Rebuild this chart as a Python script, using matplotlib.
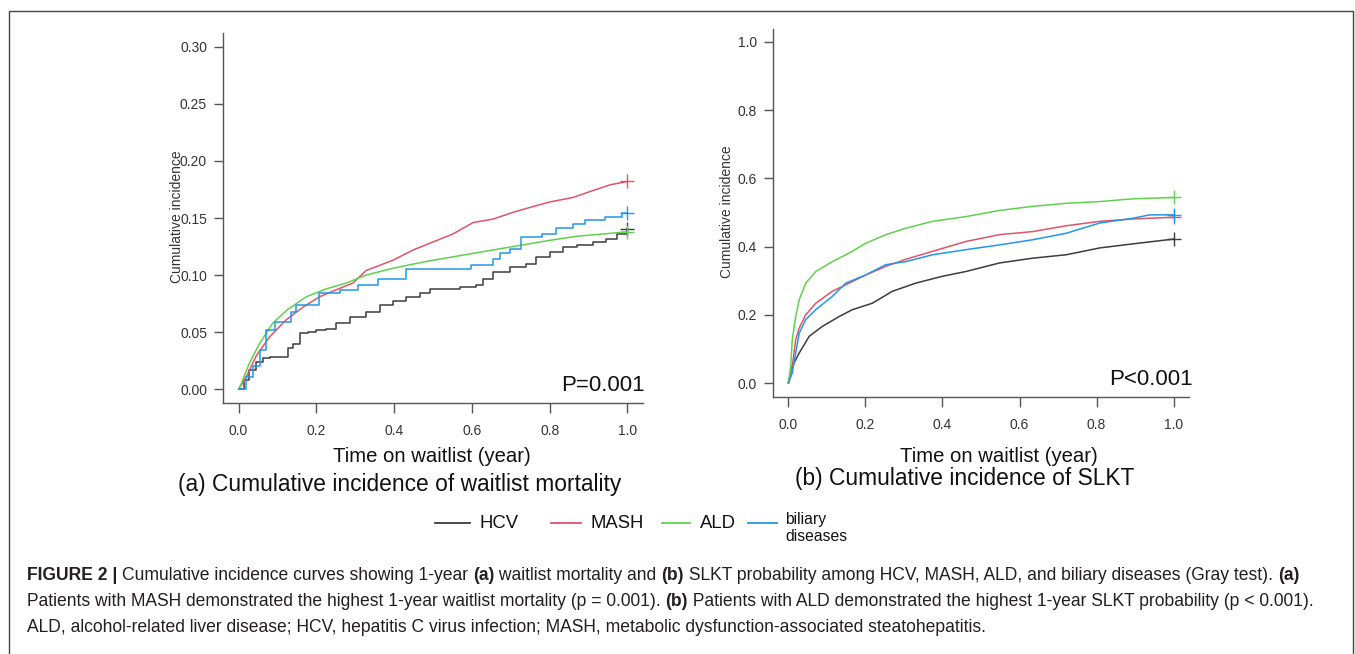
import matplotlib
matplotlib.use("Agg")
import matplotlib.pyplot as plt
from matplotlib.lines import Line2D
from matplotlib.patches import Rectangle

plt.rcParams['font.family'] = ['Liberation Sans', 'DejaVu Sans']

W, H = 1355, 654

groups = ["HCV", "MASH", "ALD", "biliary\ndiseases"]
colors = ["#3c3c3c", "#DF536B", "#61D04F", "#2297E6"]

# ---- Panel (a): waitlist mortality ----
a_hcv_t = [0, .015, .028, .045, .063, .08, .114, .127, .14, .157, .178, .2, .226, .251, .286, .328, .363,
           .397, .431, .466, .491, .551, .569, .611, .628, .654, .697, .74, .766, .8, .834, .869, .911,
           .946, .972, 1.0]
a_hcv_y = [0, .008, .017, .024, .027, .0285, .0285, .036, .040, .049, .050, .052, .053, .058, .063, .068,
           .074, .077, .081, .084, .088, .088, .090, .091, .097, .103, .107, .110, .116, .120, .125, .126,
           .129, .132, .136, .140]

a_mash_t = [0, .02, .045, .08, .123, .166, .208, .25, .294, .328, .397, .449, .5, .551, .603, .654, .706,
            .757, .8, .86, .911, .955, 1.0]
a_mash_y = [0, .011, .029, .046, .061, .072, .081, .087, .093, .104, .113, .122, .129, .136, .146, .149,
            .155, .160, .164, .168, .174, .179, .182]

a_ald_t = [0, .007, .028, .054, .088, .123, .174, .226, .277, .328, .397, .483, .551, .603, .654, .723,
           .792, .869, .937, 1.0]
a_ald_y = [0, .005, .023, .040, .058, .069, .081, .088, .093, .100, .106, .112, .116, .119, .122, .126,
           .130, .134, .136, .138]

a_bil_t = [0, .02, .037, .054, .071, .093, .136, .148, .208, .26, .307, .358, .431, .598, .654, .671,
           .697, .727, .779, .817, .86, .89, .941, .987, 1.0]
a_bil_y = [0, .011, .020, .034, .052, .059, .068, .074, .084, .087, .091, .097, .105, .109, .114, .119,
           .123, .133, .136, .141, .145, .148, .151, .154, .154]

# ---- Panel (b): SLKT ----
b_hcv_t = [0, .01, .028, .054, .088, .132, .166, .218, .27, .331, .4, .461, .548, .634, .721, .808, .894, 1.0]
b_hcv_y = [0, .049, .088, .137, .166, .195, .215, .234, .269, .293, .313, .327, .352, .366, .376, .396, .408, .422]

b_mash_t = [0, .01, .019, .028, .045, .071, .114, .158, .201, .253, .305, .374, .461, .548, .634, .721,
            .808, .894, 1.0]
b_mash_y = [0, .049, .127, .161, .200, .234, .269, .293, .317, .342, .363, .386, .415, .435, .444, .461,
            .474, .481, .486]

b_ald_t = [0, .006, .010, .019, .028, .045, .071, .114, .158, .201, .253, .305, .374, .461, .548, .634,
           .721, .808, .894, 1.0]
b_ald_y = [0, .049, .127, .195, .244, .293, .327, .356, .381, .410, .435, .454, .474, .488, .506, .518,
           .527, .532, .540, .544]

b_bil_t = [0, .01, .019, .028, .045, .071, .114, .149, .201, .253, .305, .374, .461, .548, .634, .721,
           .764, .808, .894, .938, 1.0]
b_bil_y = [0, .029, .088, .146, .186, .215, .254, .293, .317, .347, .356, .376, .391, .405, .420, .439,
           .454, .469, .483, .493, .493]

a_series = [(a_hcv_t, a_hcv_y, 'steps-post'), (a_mash_t, a_mash_y, 'default'),
            (a_ald_t, a_ald_y, 'default'), (a_bil_t, a_bil_y, 'steps-post')]
b_series = [(b_hcv_t, b_hcv_y, 'default'), (b_mash_t, b_mash_y, 'default'),
            (b_ald_t, b_ald_y, 'default'), (b_bil_t, b_bil_y, 'default')]

x_ticks = [0.0, 0.2, 0.4, 0.6, 0.8, 1.0]
a_yticks = [0.00, 0.05, 0.10, 0.15, 0.20, 0.25, 0.30]
b_yticks = [0.0, 0.2, 0.4, 0.6, 0.8, 1.0]

fig = plt.figure(figsize=(W / 100, H / 100), dpi=100)

def px_ax(l, t, r, b):
    return fig.add_axes([l / W, 1 - b / H, (r - l) / W, (b - t) / H])

axA = px_ax(223, 33, 643, 403)
axB = px_ax(773, 29, 1189, 397)

tick_col = "#333333"
spine_col = "#555555"

def style(ax, yticks, ylim, yfmt, ylab_xy):
    for s in ['top', 'right']:
        ax.spines[s].set_visible(False)
    for s in ['left', 'bottom']:
        ax.spines[s].set_color(spine_col)
        ax.spines[s].set_linewidth(1.0)
    ax.set_xlim(-0.04, 1.04)
    ax.set_ylim(*ylim)
    ax.set_xticks(x_ticks)
    ax.set_xticklabels([f"{v:.1f}" for v in x_ticks])
    ax.set_yticks(yticks)
    ax.set_yticklabels([yfmt.format(v) for v in yticks])
    ax.tick_params(axis='x', length=7, width=1, color=spine_col, pad=8, labelsize=10, labelcolor=tick_col)
    ax.tick_params(axis='y', length=6.5, width=1, color=spine_col, pad=5, labelsize=10, labelcolor=tick_col)
    ax.set_ylabel("Cumulative incidence", fontsize=10, color=tick_col)
    ax.yaxis.set_label_coords(*ylab_xy)

style(axA, a_yticks, (-0.012, 0.312), "{:.2f}", (-0.093, 0.503))
style(axB, b_yticks, (-0.041, 1.038), "{:.1f}", (-0.094, 0.503))

for ax, series in [(axA, a_series), (axB, b_series)]:
    for (t, y, ds), c in zip(series, colors):
        ax.plot(t, y, color=c, lw=1.1, drawstyle=ds)
        ax.plot([t[-1]], [y[-1]], marker='+', ms=10, mew=1.0, color=c, ls='none')

axA.text(1.005, 0.02, "P=0.001", transform=axA.transAxes, ha='right', va='bottom', fontsize=16, color='#111111')
axB.text(1.010, 0.02, "P<0.001", transform=axB.transAxes, ha='right', va='bottom', fontsize=16, color='#111111')

def ftext(x, y, s, **kw):
    return fig.text(x / W, 1 - y / H, s, **kw)

ftext(432, 457, "Time on waitlist (year)", ha='center', va='center', fontsize=14.6, color='#111111')
ftext(999, 456, "Time on waitlist (year)", ha='center', va='center', fontsize=14.6, color='#111111')
ftext(400, 484, "(a) Cumulative incidence of waitlist mortality", ha='center', va='center', fontsize=16.4, color='#111111')
ftext(965, 479, "(b) Cumulative incidence of SLKT", ha='center', va='center', fontsize=16.4, color='#111111')

# legend
leg_pos = [(435, 470, 480), (551, 581, 591), (662, 690, 700), (748, 777, 785)]
for (x0, x1, xt), c, g in zip(leg_pos, colors, groups):
    fig.add_artist(Line2D([x0 / W, x1 / W], [1 - 523 / H, 1 - 523 / H], color=c, lw=1.3))
    if "\n" in g:
        ftext(xt, 528, g, ha='left', va='center', fontsize=11.3, color='#111111', linespacing=1.15)
    else:
        ftext(xt, 524, g, ha='left', va='center', fontsize=13.3, color='#111111')

# border frame
fig.add_artist(Rectangle((9 / W, -0.01), (1353 - 9) / W, 1 - 11 / H + 0.01, transform=fig.transFigure,
                         fill=False, ec='#444444', lw=1.0))

# caption with inline bold
renderer = fig.canvas.get_renderer()
cap_fs = 12.65
cap_col = '#231f20'

def rich_line(x, y, pieces):
    xf = x / W
    for s, bold in pieces:
        t = fig.text(xf, 1 - y / H, s, fontsize=cap_fs, color=cap_col, ha='left', va='center',
                     weight='bold' if bold else 'normal')
        bb = t.get_window_extent(renderer)
        xf += bb.width / fig.bbox.width

rich_line(27, 575, [("FIGURE 2 | ", True), ("Cumulative incidence curves showing 1-year ", False), ("(a)", True),
                    (" waitlist mortality and ", False), ("(b)", True),
                    (" SLKT probability among HCV, MASH, ALD, and biliary diseases (Gray test). ", False),
                    ("(a)", True)])
rich_line(27, 602, [("Patients with MASH demonstrated the highest 1-year waitlist mortality (p = 0.001). ", False),
                    ("(b)", True),
                    (" Patients with ALD demonstrated the highest 1-year SLKT probability (p < 0.001).", False)])
rich_line(27, 628, [("ALD, alcohol-related liver disease; HCV, hepatitis C virus infection; MASH, metabolic "
                     "dysfunction-associated steatohepatitis.", False)])

fig.savefig("out.png", dpi=100)
